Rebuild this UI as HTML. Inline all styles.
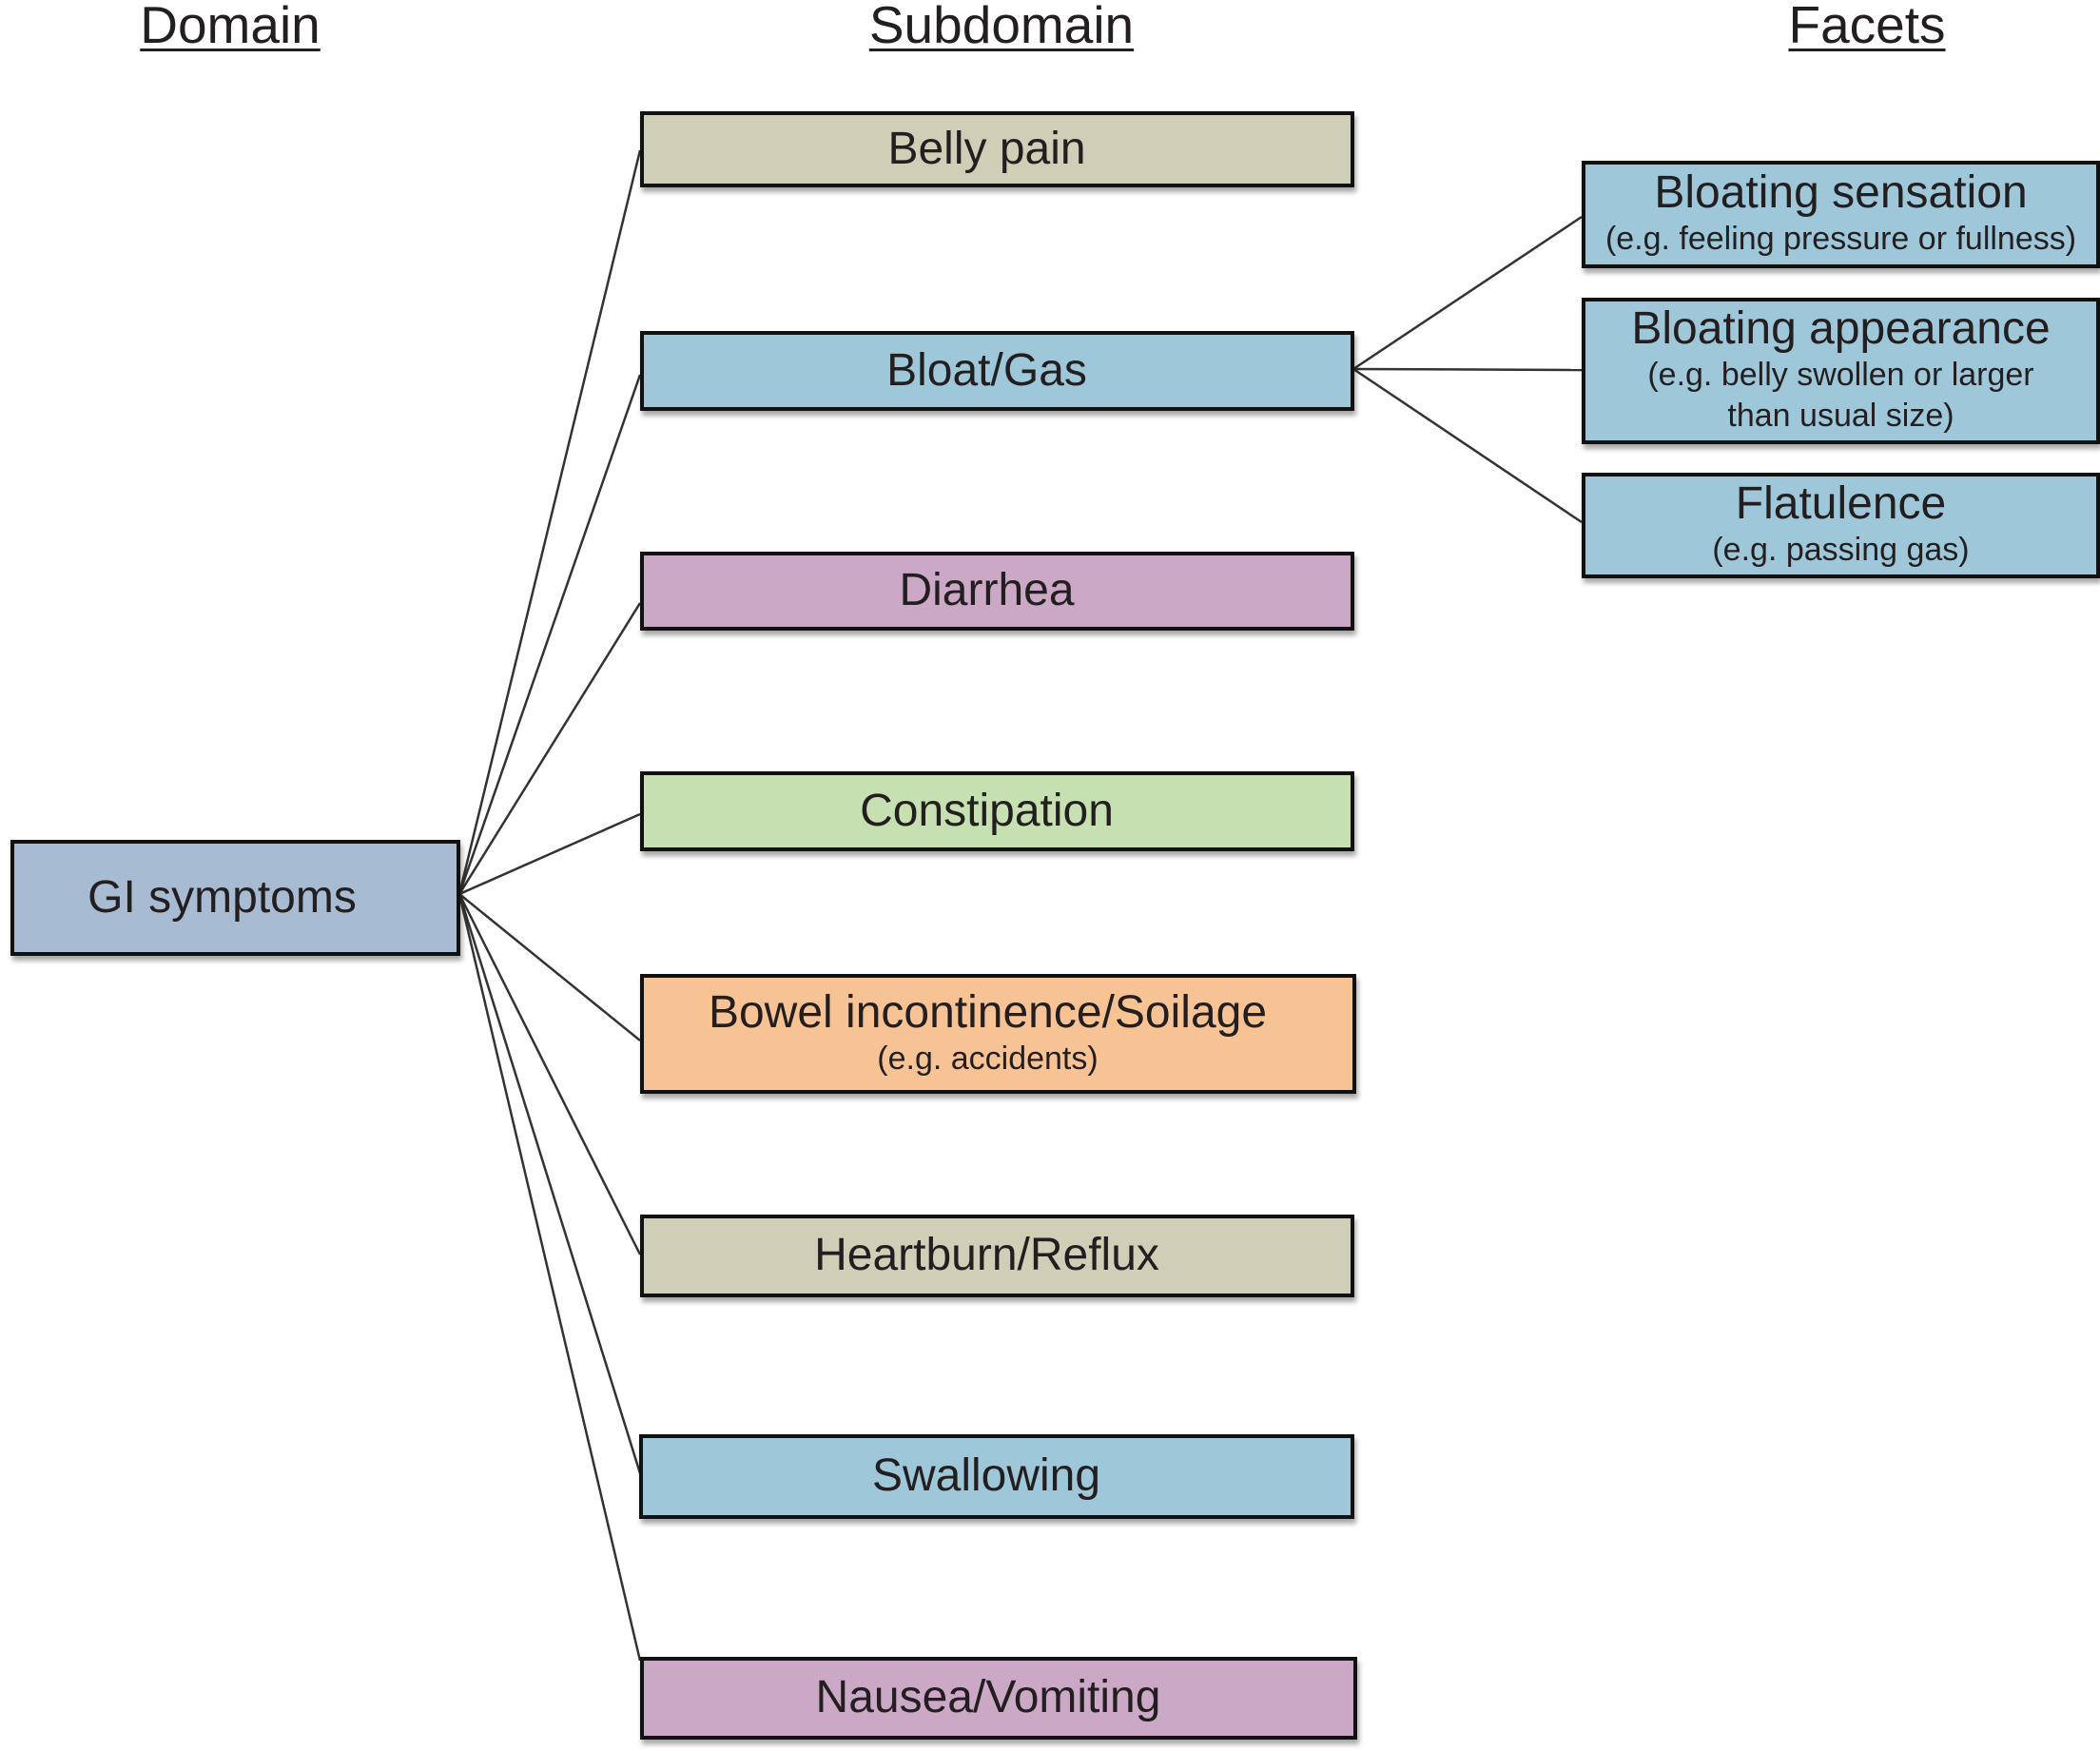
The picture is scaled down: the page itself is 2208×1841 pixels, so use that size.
<!DOCTYPE html>
<html><head><meta charset="utf-8"><style>
html,body{margin:0;padding:0;background:#fff;}
body{width:2208px;height:1841px;position:relative;overflow:hidden;font-family:"Liberation Sans",Arial,sans-serif;color:#231f20;}
.h{position:absolute;top:-6px;font-size:55px;text-decoration:underline;text-decoration-thickness:3px;text-underline-offset:6px;transform:translateX(-50%);white-space:nowrap;}
.b{position:absolute;box-sizing:border-box;border:4px solid #111;box-shadow:2px 5px 5px rgba(0,0,0,0.35);display:flex;flex-direction:column;justify-content:center;align-items:center;text-align:center;font-size:48px;line-height:1.1;}
.sd{padding-right:22px;}
.s{font-size:34px;line-height:1.28;}
.tan{background:#cfcfb8}.blu{background:#9ec8da}.pur{background:#cba8c6}.grn{background:#c6e0b2}.org{background:#f8c394}.gi{background:#a7bbd2}
svg{position:absolute;left:0;top:0}
</style></head><body>
<svg width="2208" height="1841">
<g stroke="#333" stroke-width="2.5" fill="none">
<line x1="483" y1="940" x2="673" y2="158"/>
<line x1="483" y1="940" x2="673" y2="394"/>
<line x1="483" y1="940" x2="673" y2="634"/>
<line x1="483" y1="940" x2="673" y2="856"/>
<line x1="483" y1="940" x2="673" y2="1094"/>
<line x1="483" y1="940" x2="673" y2="1319"/>
<line x1="483" y1="940" x2="673" y2="1549"/>
<line x1="483" y1="940" x2="673" y2="1746"/>
<line x1="1423" y1="388" x2="1663" y2="228"/>
<line x1="1423" y1="388" x2="1663" y2="389"/>
<line x1="1423" y1="388" x2="1663" y2="549"/>
</g></svg>
<div class="h" style="left:242px">Domain</div>
<div class="h" style="left:1053px">Subdomain</div>
<div class="h" style="left:1963px">Facets</div>

<div class="b gi" style="left:11px;top:883px;width:473px;height:122px;padding-right:28px">GI symptoms</div>

<div class="b tan sd" style="left:673px;top:117px;width:751px;height:80px">Belly pain</div>
<div class="b blu sd" style="left:673px;top:348px;width:751px;height:84px">Bloat/Gas</div>
<div class="b pur sd" style="left:673px;top:580px;width:751px;height:83px">Diarrhea</div>
<div class="b grn sd" style="left:673px;top:811px;width:751px;height:84px">Constipation</div>
<div class="b org sd" style="left:673px;top:1024px;width:753px;height:126px"><div>Bowel incontinence/Soilage</div><div class="s">(e.g. accidents)</div></div>
<div class="b tan sd" style="left:673px;top:1277px;width:751px;height:87px">Heartburn/Reflux</div>
<div class="b blu sd" style="left:672px;top:1508px;width:752px;height:89px">Swallowing</div>
<div class="b pur sd" style="left:673px;top:1742px;width:754px;height:87px">Nausea/Vomiting</div>

<div class="b blu" style="left:1663px;top:169px;width:545px;height:113px"><div>Bloating sensation</div><div class="s">(e.g. feeling pressure or fullness)</div></div>
<div class="b blu" style="left:1663px;top:313px;width:545px;height:154px"><div>Bloating appearance</div><div class="s">(e.g. belly swollen or larger<br>than usual size)</div></div>
<div class="b blu" style="left:1663px;top:497px;width:545px;height:111px"><div>Flatulence</div><div class="s">(e.g. passing gas)</div></div>
</body></html>
